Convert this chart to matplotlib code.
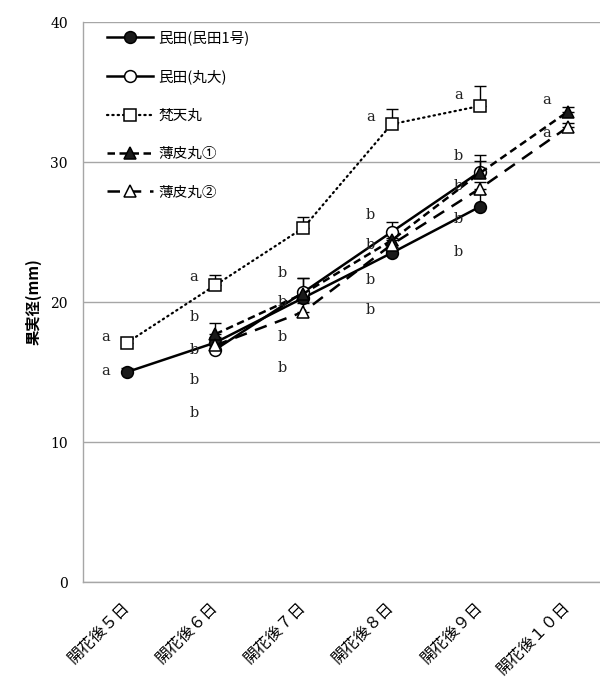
import matplotlib
matplotlib.use('Agg')
import matplotlib.pyplot as plt
import numpy as np

plt.rcParams['font.family'] = ['Noto Sans CJK JP', 'DejaVu Sans']

nan = np.nan
days = ['開花後５日', '開花後６日', '開花後７日', '開花後８日', '開花後９日', '開花後１０日']

names = ['民田(民田1号)', '民田(丸大)', '梵天丸', '薄皮丸①', '薄皮丸②']
tamida1 = [15.0, 17.1, 20.3, 23.5, 26.8, nan]
tamida1_err = [0.3, 0.4, 0.5, 0.4, 0.9, nan]
marudai = [nan, 16.6, 20.7, 25.0, 29.3, nan]
marudai_err = [nan, 0.4, 1.0, 0.7, 0.8, nan]
bonten = [17.1, 21.2, 25.3, 32.7, 34.0, nan]
bonten_err = [0.3, 0.7, 0.8, 1.1, 1.4, nan]
usukawa1 = [nan, 17.7, 20.6, 24.4, 29.2, 33.6]
usukawa1_err = [nan, 0.8, 1.1, 0.6, 1.3, 0.3]
usukawa2 = [nan, 16.9, 19.3, 24.1, 28.1, 32.5]
usukawa2_err = [nan, 0.4, 0.6, 0.5, 0.5, 0.3]

# significance letters: (day index, y value, letter)
letter_day = [0, 0,
              1, 1, 1, 1, 1,
              2, 2, 2, 2,
              3, 3, 3, 3, 3,
              4, 4, 4, 4, 4,
              5, 5]
letter_y = [17.5, 15.1,
            21.8, 18.9, 16.6, 14.4, 12.1,
            22.1, 20.0, 17.5, 15.3,
            33.2, 26.2, 24.1, 21.6, 19.4,
            34.8, 30.4, 28.3, 25.9, 23.6,
            34.4, 32.1]
letter_txt = ['a', 'a',
              'a', 'b', 'b', 'b', 'b',
              'b', 'b', 'b', 'b',
              'a', 'b', 'b', 'b', 'b',
              'a', 'b', 'b', 'b', 'b',
              'a', 'a']

yticks = [0, 10, 20, 30, 40]

fig = plt.figure(figsize=(6.0, 6.8), dpi=100)
ax = fig.add_axes([83 / 600, 98 / 680, 529 / 600, 560 / 680])

x = np.arange(len(days))

styles = [
    dict(data=tamida1, err=tamida1_err, ls='-', marker='o', mfc='#1a1a1a', ms=8.5, dashes=None),
    dict(data=marudai, err=marudai_err, ls='-', marker='o', mfc='white', ms=8.5, dashes=None),
    dict(data=bonten, err=bonten_err, ls=':', marker='s', mfc='white', ms=8.5, dashes=(0.6, 1.8)),
    dict(data=usukawa1, err=usukawa1_err, ls='--', marker='^', mfc='#1a1a1a', ms=9, dashes=(3.0, 1.8)),
    dict(data=usukawa2, err=usukawa2_err, ls='--', marker='^', mfc='white', ms=9, dashes=(5.0, 3.5)),
]

for name, st in zip(names, styles):
    y = np.array(st['data'], dtype=float)
    e = np.array(st['err'], dtype=float)
    ax.errorbar(x, y, yerr=[np.zeros_like(e), e], fmt='none', ecolor='black',
                elinewidth=1.0, capsize=4, capthick=1.0, zorder=2)
    kw = dict(color='black', lw=1.8 if st['ls'] != ':' else 1.6, marker=st['marker'],
              mfc=st['mfc'], mec='black', mew=1.1, ms=st['ms'], label=name, zorder=3)
    line, = ax.plot(x, y, **kw)
    if st['dashes'] is not None:
        line.set_dashes(st['dashes'])
        if st['ls'] == ':':
            line.set_dash_capstyle('round')

for d, yv, t in zip(letter_day, letter_y, letter_txt):
    ax.text(d - 0.24, yv, t, ha='center', va='center', fontsize=10.5,
            family='DejaVu Serif', color='#222222', zorder=4)

ax.set_xlim(-0.5, len(days) - 0.5)
ax.set_ylim(0, 40)
ax.set_yticks(yticks)
ax.set_yticklabels([str(v) for v in yticks], family='DejaVu Serif', fontsize=10)
ax.set_xticks(x)
ax.set_xticklabels(days, fontsize=11.5)
plt.setp(ax.get_xticklabels(), rotation=45, ha='right', va='center', rotation_mode='anchor')
ax.tick_params(axis='x', length=0, pad=16)
ax.tick_params(axis='y', length=0, pad=11)

ax.grid(axis='y', color='#a6a6a6', lw=1.0)
ax.set_axisbelow(True)
for s in ['top', 'right']:
    ax.spines[s].set_visible(False)
for s in ['left', 'bottom']:
    ax.spines[s].set_color('#a6a6a6')
    ax.spines[s].set_linewidth(1.0)

ax.set_ylabel('果実径(mm)', fontsize=11, fontweight='bold')
ax.yaxis.set_label_coords(-0.078, 0.5)

leg = ax.legend(loc='upper left', bbox_to_anchor=(0.045, 0.985), frameon=False,
                fontsize=10.5, handlelength=3.2, handletextpad=0.35, labelspacing=1.67,
                borderaxespad=0, borderpad=0)

fig.savefig('out.png', dpi=100)
